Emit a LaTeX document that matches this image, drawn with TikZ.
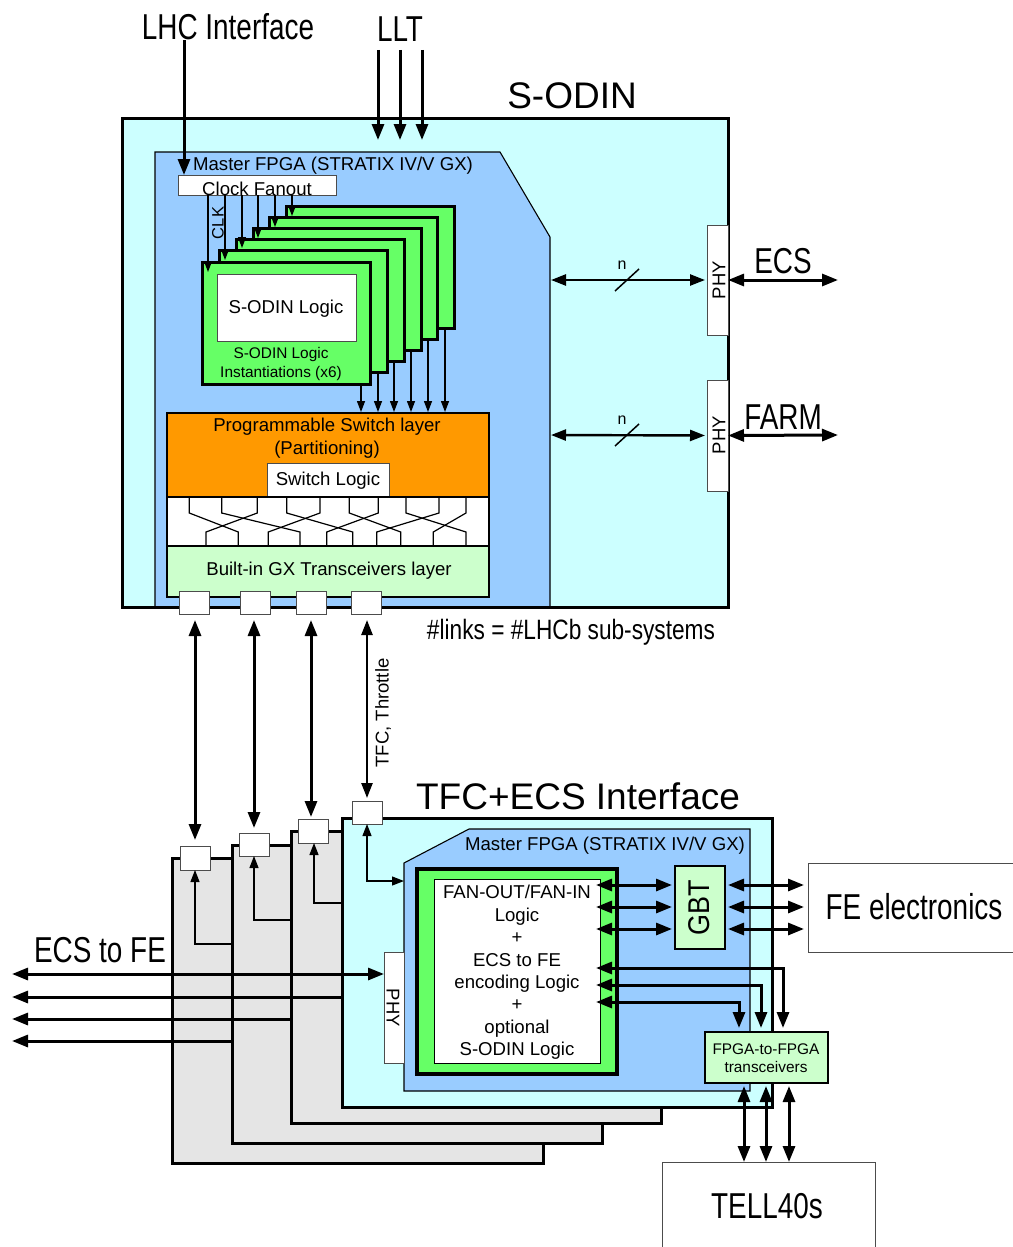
\documentclass[tikz,border=0pt]{standalone}
\usepackage{fontspec}
\setmainfont{Liberation Sans}
\usepackage{tikz}
\usetikzlibrary{arrows.meta,positioning,calc}
\definecolor{panelcyan}{HTML}{CCFFFF}
\definecolor{fpgablue}{HTML}{99CCFF}
\definecolor{logicgreen}{HTML}{66FF66}
\definecolor{palegreen}{HTML}{CCFFCC}
\definecolor{switchorange}{HTML}{FF9900}
\definecolor{stackgray}{HTML}{E5E5E5}

\begin{document}
\begin{tikzpicture}[x=1pt, y=-1pt, every node/.style={inner sep=0pt, outer sep=0pt},
    panel/.style={rectangle, draw, line width=3pt, anchor=north west},
    whitebox/.style={rectangle, draw=black!70, fill=white, line width=0.9pt, anchor=north west},
    logicbox/.style={rectangle, draw, fill=logicgreen, line width=3pt, anchor=north west, minimum width=168pt, minimum height=122pt},
    layerbox/.style={rectangle, draw, line width=2pt, minimum width=322pt},
    portbox/.style={rectangle, draw=black!70, fill=white, line width=0.9pt, minimum width=30pt, minimum height=23pt},
    fpgaline/.style={draw=black, fill=fpgablue, line width=1.1pt},
    bigtext/.style={font=\fontsize{37}{40}\selectfont},
    tallertext/.style={font=\fontsize{36}{40}\selectfont, xscale=0.775, transform shape},
    linktext/.style={font=\fontsize{28}{32}\selectfont, xscale=0.81, transform shape},
    midtext/.style={font=\fontsize{18.6}{22}\selectfont, align=center},
    smalltext/.style={font=\fontsize{15.4}{19}\selectfont, align=center},
    phytext/.style={font=\fontsize{18.5}{20}\selectfont},
    bigarrow/.style={line width=3pt, -{Triangle[length=16pt,width=12pt]}},
    bigboth/.style={line width=3pt, {Triangle[length=16pt,width=12pt]}-{Triangle[length=16pt,width=12pt]}},
    midboth/.style={line width=2.4pt, {Triangle[length=15pt,width=11pt]}-{Triangle[length=15pt,width=11pt]}},
    thinarrow/.style={line width=1.3pt, -{Triangle[length=11pt,width=8pt]}},
    backarrow/.style={line width=1.2pt, -{Triangle[length=12pt,width=9pt]}},
    backboth/.style={line width=1.2pt, {Triangle[length=12pt,width=9pt]}-{Triangle[length=12pt,width=9pt]}}]
    \useasboundingbox (0,0) rectangle (1012,1247);

    % S-ODIN board
    \node (sodin) at (122,118) [panel, fill=panelcyan, minimum width=606pt, minimum height=489pt] {};
    \draw [fpgaline] (155,607) -- (155,152) -- (500,152) -- (550,237) -- (550,607) -- cycle;
    \draw [line width=3pt] (sodin.south west) -- (sodin.south east);
    \node (sodintitle) at (572,96) [bigtext] {S-ODIN};
    \node (masterfpga) at (333,165.5) [midtext] {Master FPGA (STRATIX IV/V GX)};
    \node (fanout) at (178,175) [whitebox, minimum width=158pt, minimum height=20pt] {};
    \node (fanouttext) at (257,188.5) [midtext] {Clock Fanout};
    \node (clk) at (218,223) [smalltext, font=\fontsize{16.5}{19}\selectfont, rotate=90] {CLK};

    % Logic instantiations, back to front
    \node (logicf) at (286,206) [logicbox] {};
    \node (logice) at (269,217) [logicbox] {};
    \node (logicd) at (253,228) [logicbox] {};
    \node (logicc) at (236,239) [logicbox] {};
    \node (logicb) at (219,250) [logicbox] {};
    \node (logica) at (202,262) [logicbox] {};
    \node (logicwhite) at (217,274) [whitebox, minimum width=139pt, minimum height=67pt] {};
    \node (logictext) at (286,309) [midtext] {S-ODIN Logic};
    \node (logiccaption) at (281,364) [smalltext] {S-ODIN Logic\\Instantiations (x6)};

    % Switch and transceiver layers
    \node (orange) at (328,455) [layerbox, fill=switchorange, minimum height=84pt] {};
    \node (switchtitle) at (327,438.5) [midtext, font=\fontsize{18.6}{23}\selectfont] {Programmable Switch layer\\(Partitioning)};
    \node (switchlogic) at (267,463) [whitebox, minimum width=122pt, minimum height=34pt] {};
    \node (switchtext) at (328,481) [midtext] {Switch Logic};
    \node (crossband) [layerbox, fill=white, minimum height=49pt, below=0pt of orange] {};
    \node (transceivers) [layerbox, fill=palegreen, minimum height=51pt, below=0pt of crossband] {};
    \node (transtext) at (329,571) [midtext] {Built-in GX Transceivers layer};
    \node (porta) at (194.5,602.5) [portbox] {};
    \node (portb) [portbox, right=31pt of porta] {};
    \node (portc) [portbox, right=26pt of portb] {};
    \node (portd) [portbox, right=25pt of portc] {};

    % Crossing lines of the switch
    \draw [line width=1.2pt] (189.3,498) -- (189.3,513) -- (238.3,532) -- (238.3,546);
    \draw [line width=1.2pt] (257.3,498) -- (257.3,513) -- (206,532) -- (206,546);
    \draw [line width=1.2pt] (221.7,498) -- (221.7,513) -- (300,532) -- (300,546);
    \draw [line width=1.2pt] (320,498) -- (320,513) -- (268.3,532) -- (268.3,546);
    \draw [line width=1.2pt] (286.7,498) -- (286.7,513) -- (352.7,532) -- (352.7,546);
    \draw [line width=1.2pt] (378.3,498) -- (378.3,513) -- (326.7,532) -- (326.7,546);
    \draw [line width=1.2pt] (349.3,498) -- (349.3,513) -- (400.7,532) -- (400.7,546);
    \draw [line width=1.2pt] (439,498) -- (439,513) -- (376.7,532) -- (376.7,546);
    \draw [line width=1.2pt] (406,498) -- (406,513) -- (466,532) -- (466,546);
    \draw [line width=1.2pt] (466,498) -- (466,513) -- (433.3,532) -- (433.3,546);

    % PHY blocks of the S-ODIN
    \node (phyecs) at (717.5,280) [whitebox, anchor=center, minimum width=21pt, minimum height=110pt] {};
    \node (phyfarm) at (717.5,435.5) [whitebox, anchor=center, minimum width=21pt, minimum height=111pt] {};
    \node (phyecstext) at (719,280) [phytext, rotate=90] {PHY};
    \node (phyfarmtext) at (719,435) [phytext, rotate=90] {PHY};

    % Inputs and outputs of the S-ODIN
    \node (lhc) at (228,27) [tallertext] {LHC Interface};
    \node (llt) at (400,29) [tallertext] {LLT};
    \node (ecs) at (783,261) [tallertext] {ECS};
    \node (farm) at (783,417) [tallertext] {FARM};
    \node (links) at (571,632) [linktext] {\#links = \#LHCb sub-systems};
    \node (nup) at (622,265) [smalltext, font=\fontsize{16}{19}\selectfont] {n};
    \node (ndown) at (622,420) [smalltext, font=\fontsize{16}{19}\selectfont] {n};
    \coordinate (lhcin) at (184,40);
    \coordinate (llta) at (378,50);
    \coordinate (lltb) at (400,50);
    \coordinate (lltc) at (422,50);
    \coordinate (lltaend) at (378,140);
    \coordinate (lltbend) at (400,140);
    \coordinate (lltcend) at (422,140);
    \coordinate (fpgaecs) at (551,280);
    \coordinate (fpgafarm) at (551,435);
    \coordinate (ecsout) at (838,280);
    \coordinate (farmout) at (838,435);
    \draw [bigarrow] (lhcin) -- (lhcin |- fanout.north);
    \draw [bigarrow] (llta) -- (lltaend);
    \draw [bigarrow] (lltb) -- (lltbend);
    \draw [bigarrow] (lltc) -- (lltcend);
    \draw [midboth, shorten >=2pt] (fpgaecs) -- (phyecs.west);
    \draw [midboth, shorten >=2pt] (fpgafarm) -- (phyfarm.west);
    \draw [bigboth] (phyecs.east) -- (ecsout);
    \draw [bigboth] (phyfarm.east) -- (farmout);
    \draw [line width=1.5pt] (615,291) -- (639,269);
    \draw [line width=1.5pt] (615,446) -- (639,424);

    % Clock lines
    \coordinate (clka) at (208,272);
    \coordinate (clkb) at (225,260);
    \coordinate (clkc) at (242,248);
    \coordinate (clkd) at (258,238);
    \coordinate (clke) at (275,227);
    \coordinate (clkf) at (292,216);
    \draw [thinarrow] (clka |- fanout.south) -- (clka);
    \draw [thinarrow] (clkb |- fanout.south) -- (clkb);
    \draw [thinarrow] (clkc |- fanout.south) -- (clkc);
    \draw [thinarrow] (clkd |- fanout.south) -- (clkd);
    \draw [thinarrow] (clke |- fanout.south) -- (clke);
    \draw [thinarrow] (clkf |- fanout.south) -- (clkf);

    % Logic outputs
    \coordinate (outa) at (361,412);
    \coordinate (outb) at (378,412);
    \coordinate (outc) at (394,412);
    \coordinate (outd) at (411,412);
    \coordinate (oute) at (428,412);
    \coordinate (outf) at (445,412);
    \draw [thinarrow] (outa |- logica.south) -- (outa);
    \draw [thinarrow] (outb |- logicb.south) -- (outb);
    \draw [thinarrow] (outc |- logicc.south) -- (outc);
    \draw [thinarrow] (outd |- logicd.south) -- (outd);
    \draw [thinarrow] (oute |- logice.south) -- (oute);
    \draw [thinarrow] (outf |- logicf.south) -- (outf);

    % TFC+ECS boards
    \node (stacka) at (172,858) [panel, fill=stackgray, minimum width=371pt, minimum height=305pt] {};
    \node (stackb) at (232,845) [panel, fill=stackgray, minimum width=370pt, minimum height=298pt] {};
    \node (stackc) at (291,831) [panel, fill=stackgray, minimum width=370pt, minimum height=292pt] {};
    \node (iface) at (342,818) [panel, fill=panelcyan, minimum width=430pt, minimum height=289pt] {};
    \draw [fpgaline] (404,863) -- (469,829) -- (750,829) -- (750,1091) -- (404,1091) -- cycle;
    \node (ifacetitle) at (578,796) [bigtext] {TFC+ECS Interface};
    \node (ifacefpga) at (605,846) [midtext] {Master FPGA (STRATIX IV/V GX)};
    \node (ifaceouter) at (417,869) [panel, line width=4pt, fill=logicgreen, minimum width=200pt, minimum height=205pt] {};
    \node (ifaceinner) at (434,879) [whitebox, draw=black, minimum width=166pt, minimum height=184pt] {};
    \node (ifacetext) at (517,972.5) [midtext, font=\fontsize{18.6}{22.4}\selectfont] {FAN-OUT/FAN-IN\\Logic\\+\\ECS to FE\\encoding Logic\\+\\optional\\S-ODIN Logic};
    \node (gbt) at (675,866) [panel, line width=2pt, fill=palegreen, minimum width=50pt, minimum height=83pt] {};
    \node (gbttext) at (699,907.5) [rotate=90, font=\fontsize{30}{32}\selectfont, xscale=0.9] {GBT};
    \node (ifacephy) at (384,952) [whitebox, minimum width=20pt, minimum height=111pt] {};
    \node (ifacephytext) at (393,1008) [phytext, rotate=-90] {PHY};
    \node (ftof) at (705,1032) [panel, line width=1.6pt, fill=palegreen, minimum width=123pt, minimum height=51pt] {};
    \node (ftoftext) at (766,1058) [smalltext, font=\fontsize{15.4}{18}\selectfont] {FPGA-to-FPGA\\transceivers};
    \node (ifporta) at (180,846) [portbox, anchor=north west, minimum height=24pt] {};
    \node (ifportb) at (239,833) [portbox, anchor=north west] {};
    \node (ifportc) at (298,819) [portbox, anchor=north west, minimum height=24pt] {};
    \node (ifportd) at (352,801) [portbox, anchor=north west] {};

    % External blocks
    \node (fe) at (808,863) [whitebox, minimum width=230pt, minimum height=89pt] {};
    \node (fetext) at (914,907) [tallertext] {FE electronics};
    \node (tell) at (662,1162) [whitebox, minimum width=213pt, minimum height=110pt] {};
    \node (telltext) at (767,1206) [tallertext] {TELL40s};
    \node (ecstofe) at (100,950) [tallertext] {ECS to FE};
    \node (tfctext) at (383,713) [smalltext, font=\fontsize{18.5}{20}\selectfont, rotate=90] {TFC, Throttle};

    % Links between the boards
    \coordinate (linka) at (195,620);
    \coordinate (linkb) at (254,620);
    \coordinate (linkc) at (311,620);
    \coordinate (linkd) at (367,620);
    \draw [bigboth] (linka) -- ($(linka |- ifporta.north)+(0,-6)$);
    \draw [bigboth] (linkb) -- ($(linkb |- ifportb.north)+(0,-5)$);
    \draw [bigboth] (linkc) -- ($(linkc |- ifportc.north)+(0,-2)$);
    \draw [midboth] (linkd) -- ($(linkd |- ifportd.north)+(0,-3)$);

    % Board internal links to the ports
    \coordinate (backa) at (195,944);
    \coordinate (backb) at (254,920);
    \coordinate (backc) at (314,903);
    \coordinate (backd) at (367,881);
    \coordinate (fpgaleft) at (404,881);
    \draw [backarrow] (backa -| stackb.west) -- (backa) -- (backa |- ifporta.south);
    \draw [backarrow] (backb -| stackc.west) -- (backb) -- (backb |- ifportb.south);
    \draw [backarrow] (backc -| iface.west) -- (backc) -- (backc |- ifportc.south);
    \draw [backboth] (backd |- ifportd.south) -- (backd) -- (fpgaleft);

    % ECS to FE lines
    \coordinate (leftcol) at (12,974);
    \coordinate (linea) at (0,997);
    \coordinate (lineb) at (0,1019);
    \coordinate (linec) at (0,1041);
    \draw [bigboth] (leftcol) -- (ifacephy.west |- leftcol);
    \draw [bigarrow] (linea -| iface.west) -- (leftcol |- linea);
    \draw [bigarrow] (lineb -| stackc.west) -- (leftcol |- lineb);
    \draw [bigarrow] (linec -| stackb.west) -- (leftcol |- linec);

    % GBT links
    \coordinate (gbta) at (596,885);
    \coordinate (gbtb) at (596,907);
    \coordinate (gbtc) at (596,929);
    \coordinate (gbtwest) at (672,0);
    \coordinate (gbteast) at (728,0);
    \coordinate (fewest) at (804,0);
    \draw [bigboth] (gbta) -- (gbtwest |- gbta);
    \draw [bigboth] (gbtb) -- (gbtwest |- gbtb);
    \draw [bigboth] (gbtc) -- (gbtwest |- gbtc);
    \draw [bigboth] (gbteast |- gbta) -- (fewest |- gbta);
    \draw [bigboth] (gbteast |- gbtb) -- (fewest |- gbtb);
    \draw [bigboth] (gbteast |- gbtc) -- (fewest |- gbtc);

    % FPGA-to-FPGA links
    \coordinate (ftofa) at (596,968);
    \coordinate (ftofb) at (596,985);
    \coordinate (ftofc) at (596,1002);
    \coordinate (ftofd) at (783,1028);
    \coordinate (ftofe) at (761,1028);
    \coordinate (ftoff) at (739,1028);
    \draw [bigboth] (ftofa) -- (ftofa -| ftofd) -- (ftofd);
    \draw [bigboth] (ftofb) -- (ftofb -| ftofe) -- (ftofe);
    \draw [bigboth] (ftofc) -- (ftofc -| ftoff) -- (ftoff);

    % TELL40 links
    \coordinate (tella) at (744,1086);
    \coordinate (tellb) at (766,1086);
    \coordinate (tellc) at (789,1086);
    \draw [bigboth] (tella) -- (tella |- tell.north);
    \draw [bigboth] (tellb) -- (tellb |- tell.north);
    \draw [bigboth] (tellc) -- (tellc |- tell.north);
\end{tikzpicture}
\end{document}
